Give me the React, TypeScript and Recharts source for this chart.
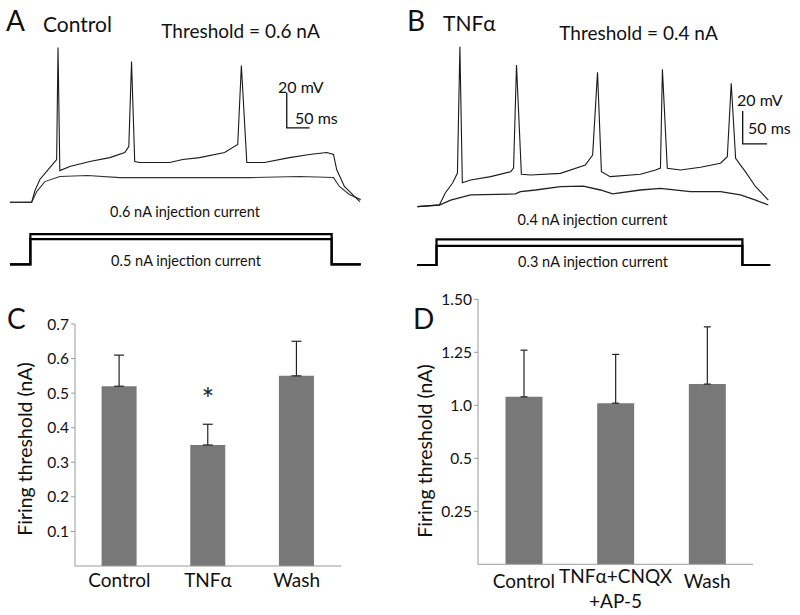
import React from "react";
import { LineChart, Line, XAxis, YAxis, BarChart, Bar, ErrorBar, LabelList } from "recharts";

const FONT = "Lato, 'Open Sans', sans-serif";
const AXIS = "#9a9a9a";
const BAR = "#787878";
const INK = "#111";

// ---- A / B: whole-cell traces. t = ms from step onset, v = mV above rest
const A_SUPRA = [
  [-48, 0], [0, 0], [7, 6.5], [18, 13], [40, 19.8], [55, 24.4], [58, 88.4], [62, 18.1],
  [84, 20.4], [128, 23.3], [172, 25.5], [205, 28.4], [214, 31.8], [220, 80.4], [227, 23.3],
  [238, 22.7], [304, 22.7], [333, 24.4], [370, 25.5], [425, 28.4], [454, 33], [462, 78.1],
  [474, 22.7], [513, 22.7], [568, 25.5], [612, 27.3], [650, 28.4], [665, 27.3], [672, 18.7],
  [689, 9], [723, 0.4],
];
const A_SUB = [
  [-48, 0], [0, 0], [11, 6.1], [29, 11.8], [62, 14.7], [123, 15.3], [194, 14.1], [326, 14.1],
  [480, 14.1], [590, 14.7], [665, 14.1], [678, 9], [700, 4.4], [725, 1.5],
];
const A_SCALE = [[562, 62.5], [562, 42.5], [612, 42.5]]; // 20 mV / 50 ms

const B_SUPRA = [
  [-45, -0.4], [0, 0.6], [12, 7.9], [27, 13.9], [37, 20], [42, 96.5], [47, 14.1], [64, 15.8],
  [105, 17.8], [146, 20.8], [152, 23], [158, 85.5], [168, 19.2], [187, 18.8], [248, 19.8],
  [299, 24.8], [314, 30.9], [324, 81], [332, 20.8], [350, 17.8], [412, 19.2], [443, 21.8],
  [453, 23], [457, 82.8], [467, 22.8], [494, 21.8], [535, 23.5], [576, 25.9], [590, 29.9],
  [598, 74.4], [607, 28.9], [617, 24.8], [627, 20.8], [648, 11.7], [674, 3.6],
];
const B_SUB = [
  [-45, -0.4], [0, 0.6], [23, 3.6], [64, 6.7], [156, 7.3], [166, 8.7], [197, 9.7], [248, 11.7],
  [295, 12.1], [330, 9.7], [355, 7.3], [412, 9.7], [453, 10.7], [514, 8.7], [576, 8.7],
  [617, 6.7], [648, 3.6], [674, 0.6],
];
const B_SCALE = [[621.5, 57.6], [621.5, 37.6], [671.5, 37.6]];

// injected current steps (nA)
const A_STEP_06 = [[-48, 0], [-3, 0], [-3, 0.6], [661, 0.6], [661, 0], [725, 0]];
const A_STEP_05 = [[-48, 0], [-3, 0], [-3, 0.5], [661, 0.5], [661, 0], [725, 0]];
const B_STEP_04 = [[-46, 0], [-6, 0], [-6, 0.4], [621, 0.4], [621, 0], [678, 0]];
const B_STEP_03 = [[-46, 0], [-6, 0], [-6, 0.3], [621, 0.3], [621, 0], [678, 0]];

// ---- C / D: firing threshold (nA), mean + SEM
const C_NAMES = ["Control", "TNFα", "Wash"];
const C_MEANS = [0.52, 0.35, 0.55];
const C_SEM = [0.09, 0.06, 0.1];
const C_SIG = ["", "*", ""];
const C_TICKS = [0.1, 0.2, 0.3, 0.4, 0.5, 0.6, 0.7];

const D_NAMES = ["Control", "TNFα+CNQX\n+AP-5", "Wash"];
const D_MEANS = [1.04, 1.01, 1.1];
const D_SEM = [0.22, 0.23, 0.27];
// printed tick labels are evenly spaced but jump 0.5 -> 1.0
const D_TICK_LABELS = [0.25, 0.5, 1.0, 1.25, 1.5];
const D_TICK_TEXT = ["0.25", "0.5", "1.0", "1.25", "1.50"];
const D_TICK_POS = [0.25, 0.5, 0.75, 1.0, 1.25];

const pts = (arr: number[][]) => arr.map(([t, v]) => ({ t, v }));

// printed value -> position on the (broken) D axis
const dAxis = (v: number) => {
  if (v <= D_TICK_LABELS[0]) return v;
  for (let i = 1; i < D_TICK_LABELS.length; i++) {
    const a = D_TICK_LABELS[i - 1], b = D_TICK_LABELS[i];
    if (v <= b || i === D_TICK_LABELS.length - 1) {
      return D_TICK_POS[i - 1] + ((v - a) / (b - a)) * (D_TICK_POS[i] - D_TICK_POS[i - 1]);
    }
  }
  return v;
};

const C_ROWS = C_NAMES.map((name, i) => ({ name, value: C_MEANS[i], err: [0, C_SEM[i]], sig: C_SIG[i] }));
const D_ROWS = D_NAMES.map((name, i) => {
  const m = dAxis(D_MEANS[i]);
  return { name, value: m, err: [0, dAxis(D_MEANS[i] + D_SEM[i]) - m] };
});

function Txt({ x, y, size, anchor = "start", children }: any) {
  return (
    <div
      style={{
        position: "absolute", left: x, top: y, fontSize: size, lineHeight: 1, whiteSpace: "nowrap",
        color: INK, transform: anchor === "middle" ? "translate(-50%,-50%)" : "translateY(-50%)",
      }}
    >
      {children}
    </div>
  );
}

function YTitle({ x, y }: any) {
  return (
    <div
      style={{
        position: "absolute", left: x, top: y, fontSize: 19.5, lineHeight: 1, whiteSpace: "nowrap",
        color: INK, transform: "translate(-50%,-50%) rotate(-90deg)",
      }}
    >
      Firing threshold (nA)
    </div>
  );
}

function Traces({ left, top, width, height, xDomain, yDomain, series }: any) {
  return (
    <div style={{ position: "absolute", left, top }}>
      <LineChart width={width} height={height} margin={{ top: 0, right: 0, bottom: 0, left: 0 }}>
        <XAxis type="number" dataKey="t" domain={xDomain} allowDataOverflow hide />
        <YAxis type="number" domain={yDomain} allowDataOverflow hide />
        {series.map((s: any, i: number) => (
          <Line
            key={i}
            data={pts(s.data)}
            dataKey="v"
            type="linear"
            stroke={s.stroke}
            strokeWidth={s.w}
            dot={false}
            isAnimationActive={false}
          />
        ))}
      </LineChart>
    </div>
  );
}

function DTick({ x, y, payload }: any) {
  const lines = String(payload.value).split("\n");
  const first = lines.length > 1 ? 9 : 13.5;
  return (
    <text x={x} y={y} textAnchor="middle" fontSize={19} fill={INK} fontFamily={FONT}>
      {lines.map((l, i) => (
        <tspan key={i} x={x} dy={i === 0 ? first : 25}>{l}</tspan>
      ))}
    </text>
  );
}

export default function App() {
  return (
    <div style={{ position: "absolute", left: 0, top: 0, width: 800, height: 615, background: "#fff", fontFamily: FONT, overflow: "hidden" }}>
      {/* A */}
      <Txt x={6} y={20} size={28}>A</Txt>
      <Txt x={43} y={22.5} size={21}>Control</Txt>
      <Txt x={240.5} y={30} size={19} anchor="middle">Threshold = 0.6 nA</Txt>
      <Txt x={278} y={86.7} size={16}>20 mV</Txt>
      <Txt x={295} y={117.7} size={16}>50 ms</Txt>
      <Txt x={185} y={211.7} size={14.5} anchor="middle">0.6 nA injection current</Txt>
      <Txt x={186} y={260.7} size={14.5} anchor="middle">0.5 nA injection current</Txt>
      <Traces
        left={9.3} top={36.45} width={354} height={175} xDomain={[-50, 730]} yDomain={[-5, 95]}
        series={[
          { data: A_SUB, stroke: "#333", w: 1.1 },
          { data: A_SUPRA, stroke: "#1a1a1a", w: 1.1 },
          { data: A_SCALE, stroke: INK, w: 1.3 },
        ]}
      />
      <Traces
        left={9.3} top={229} width={354} height={40.4} xDomain={[-50, 730]} yDomain={[-0.1, 0.7]}
        series={[
          { data: A_STEP_06, stroke: "#000", w: 2.2 },
          { data: A_STEP_05, stroke: "#000", w: 2.2 },
        ]}
      />

      {/* B */}
      <Txt x={407} y={20} size={28}>B</Txt>
      <Txt x={443} y={22} size={21}>TNFα</Txt>
      <Txt x={638.5} y={31.7} size={19} anchor="middle">Threshold = 0.4 nA</Txt>
      <Txt x={737} y={100} size={16}>20 mV</Txt>
      <Txt x={748} y={127.7} size={16}>50 ms</Txt>
      <Txt x={592.5} y={220} size={14.5} anchor="middle">0.4 nA injection current</Txt>
      <Txt x={593} y={261.7} size={14.5} anchor="middle">0.3 nA injection current</Txt>
      <Traces
        left={414.6} top={41} width={366} height={173.25} xDomain={[-50, 700]} yDomain={[-5, 100]}
        series={[
          { data: B_SUB, stroke: "#222", w: 1.3 },
          { data: B_SUPRA, stroke: "#1a1a1a", w: 1.1 },
          { data: B_SCALE, stroke: INK, w: 1.3 },
        ]}
      />
      <Traces
        left={414.6} top={233} width={366} height={38.4} xDomain={[-50, 700]} yDomain={[-0.1, 0.5]}
        series={[
          { data: B_STEP_04, stroke: "#000", w: 2.2 },
          { data: B_STEP_03, stroke: "#000", w: 2.2 },
        ]}
      />

      {/* C */}
      <Txt x={7} y={317.5} size={28}>C</Txt>
      <YTitle x={25} y={449} />
      <div style={{ position: "absolute", left: 0, top: 300 }}>
        <BarChart width={360} height={315} data={C_ROWS} margin={{ top: 24, right: 19, bottom: 0, left: 0 }} barCategoryGap="30%">
          <XAxis
            dataKey="name" height={49} interval={0} axisLine={{ stroke: AXIS }} tickLine={false}
            tickSize={0} tickMargin={8} tick={{ fontSize: 19, fill: INK, fontFamily: FONT }}
          />
          <YAxis
            width={75} domain={[0, 0.7]} ticks={C_TICKS} allowDataOverflow axisLine={{ stroke: AXIS }}
            tickLine={{ stroke: AXIS }} tickSize={4} tickMargin={2}
            tick={{ fontSize: 15.5, fill: INK, fontFamily: FONT }} tickFormatter={(v: number) => v.toFixed(1)}
          />
          <Bar dataKey="value" fill={BAR} isAnimationActive={false}>
            <ErrorBar dataKey="err" width={5} stroke="#222" strokeWidth={1.2} direction="y" />
            <LabelList dataKey="sig" position="top" offset={35} fill="#222" fontSize={30} fontFamily={FONT} />
          </Bar>
        </BarChart>
      </div>

      {/* D */}
      <Txt x={413} y={317.5} size={28}>D</Txt>
      <YTitle x={425} y={451} />
      <div style={{ position: "absolute", left: 400, top: 280 }}>
        <BarChart width={370} height={335} data={D_ROWS} margin={{ top: 19.3, right: 17, bottom: 0, left: 0 }} barCategoryGap="30%">
          <XAxis
            dataKey="name" height={50.7} interval={0} axisLine={{ stroke: AXIS }} tickLine={false}
            tickSize={0} tickMargin={10} tick={<DTick />}
          />
          <YAxis
            width={78} domain={[0, 1.25]} ticks={D_TICK_POS} allowDataOverflow axisLine={{ stroke: AXIS }}
            tickLine={{ stroke: AXIS }} tickSize={4} tickMargin={2}
            tick={{ fontSize: 15.5, fill: INK, fontFamily: FONT }}
            tickFormatter={(v: number) => {
              const k = D_TICK_POS.indexOf(v);
              return k < 0 ? "" : D_TICK_TEXT[k];
            }}
          />
          <Bar dataKey="value" fill={BAR} isAnimationActive={false}>
            <ErrorBar dataKey="err" width={3.5} stroke="#222" strokeWidth={1.2} direction="y" />
          </Bar>
        </BarChart>
      </div>
    </div>
  );
}
